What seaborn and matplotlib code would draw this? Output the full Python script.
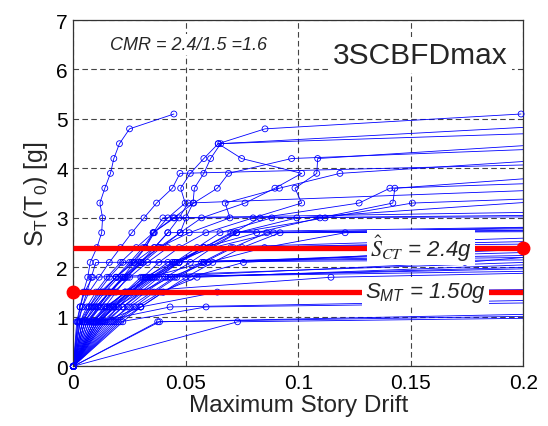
import matplotlib
matplotlib.use("Agg")
import matplotlib.pyplot as plt
import pandas as pd
import seaborn as sns

# ---------------- data ----------------
sa_levels = [0.9, 1.2, 1.5, 1.8, 2.1, 2.4, 2.7, 3.0, 3.3, 3.6, 3.9, 4.2, 4.5, 4.8, 5.1]

record_drifts = [
    [0.002, 0.003, 0.0045, 0.0064, 0.0075, 0.0105, 0.0126, 0.013, 0.0118, 0.014, 0.0165, 0.018, 0.0205, 0.025, 0.0447],
    [0.004, 0.008, 0.013, 0.019, 0.026, 0.032, 0.036, 0.042, 0.0497, 0.0477, 0.052, 0.058, 0.0644, 0.0852, 0.199],
    [0.009, 0.014, 0.019, 0.024, 0.030, 0.038, 0.0475, 0.057, 0.0763, 0.0896, 0.1015, 0.0748, 0.0644],
    [0.003, 0.006, 0.010, 0.015, 0.021, 0.028, 0.0355, 0.0445, 0.0535, 0.064, 0.069, 0.097],
    [0.012, 0.018, 0.024, 0.031, 0.038, 0.047, 0.0589, 0.0799, 0.1015, 0.0985, 0.1082, 0.1086],
    [0.006, 0.011, 0.016, 0.022, 0.029, 0.038, 0.0515, 0.0696, 0.0675, 0.0916, 0.1185],
    [0.015, 0.022, 0.030, 0.038, 0.047, 0.058, 0.0711, 0.083, 0.127, 0.1407],
    [0.008, 0.016, 0.025, 0.034, 0.045, 0.058, 0.0815, 0.1096, 0.142, 0.1429],
    [0.002, 0.004, 0.007, 0.0115, 0.016, 0.021, 0.026, 0.0314, 0.037, 0.044, 0.0474],
    [0.005, 0.010, 0.016, 0.023, 0.031, 0.039, 0.0475, 0.050, 0.0532, 0.0538, 0.058, 0.061, 0.0655],
    [0.010, 0.017, 0.025, 0.035, 0.047, 0.060, 0.0726, 0.1119, 0.1507],
    [0.003, 0.007, 0.012, 0.019, 0.027, 0.036, 0.042, 0.047, 0.051],
    [0.007, 0.012, 0.017, 0.022, 0.027, 0.032, 0.0355, 0.0398],
    [0.011, 0.018, 0.026, 0.035, 0.045, 0.055, 0.0652, 0.0882],
    [0.014, 0.022, 0.031, 0.041, 0.052, 0.062, 0.0726, 0.0993],
    [0.004, 0.008, 0.013, 0.019, 0.025, 0.031, 0.0355, 0.045],
    [0.005, 0.010, 0.016, 0.023, 0.030, 0.036, 0.042],
    [0.013, 0.020, 0.028, 0.037, 0.047, 0.058, 0.070],
    [0.018, 0.027, 0.036, 0.046, 0.058, 0.071, 0.086],
    [0.009, 0.015, 0.023, 0.032, 0.044, 0.062, 0.0889],
    [0.020, 0.030, 0.040, 0.050, 0.062, 0.075, 0.0919],
    [0.011, 0.019, 0.030, 0.043, 0.060, 0.085, 0.1208],
    [0.006, 0.012, 0.018, 0.025, 0.033, 0.042],
    [0.010, 0.018, 0.027, 0.036, 0.046, 0.058],
    [0.016, 0.025, 0.035, 0.045, 0.057, 0.070],
    [0.0025, 0.004, 0.006, 0.008, 0.010],
    [0.004, 0.007, 0.011, 0.016, 0.022],
    [0.007, 0.011, 0.016, 0.022, 0.030],
    [0.012, 0.018, 0.025, 0.033, 0.042],
    [0.009, 0.015, 0.023, 0.034, 0.058],
    [0.022, 0.030, 0.040, 0.052, 0.0756],
    [0.014, 0.020, 0.026, 0.032, 0.174],
    [0.0015, 0.003, 0.005, 0.0085],
    [0.005, 0.009, 0.014, 0.020],
    [0.010, 0.016, 0.023, 0.030],
    [0.017, 0.024, 0.032, 0.042],
    [0.019, 0.028, 0.039, 0.055],
    [0.008, 0.014, 0.024, 0.1145],
    [0.013, 0.030, 0.064],
    [0.021, 0.059],
    [0.011, 0.043],
    [0.073],
    [0.0375],
    [0.0383],
]

# Sa where each record's collapse segment crosses the right edge (None = no collapse)
collapse_sa = [
    None, None, 4.70, 4.38, 4.46, 4.14, 3.69, 3.79, 4.07, 4.83,
    3.38, 3.55, 3.11, 3.05, 3.31, 3.02,
    2.81, 2.78, 2.75, 2.72, 2.80, 2.74,
    2.47, 2.59, 2.52,
    2.15, 2.20, 2.24, 2.30, 2.36, 2.40, 2.20,
    2.10, 1.92, 1.97, 2.00, 2.05, 1.88,
    1.55, 1.28, 1.33, 0.97, 1.01, 1.05,
]

drift_limit = 0.2
s_mt = 1.50
s_ct = 2.4
x_ticks = [0, 0.05, 0.1, 0.15, 0.2]
x_ticklabels = ["0", "0.05", "0.1", "0.15", "0.2"]
y_ticks = [0, 1, 2, 3, 4, 5, 6, 7]

# ---------------- tidy tables ----------------
line_rows, pt_rows = [], []
for rid, (drifts, cend) in enumerate(zip(record_drifts, collapse_sa)):
    pts = [(0.0, 0.0)] + list(zip(drifts, sa_levels[:len(drifts)]))
    for k, (x, y) in enumerate(pts):
        line_rows.append({"rec": rid, "k": k, "drift": x, "sa": y})
        pt_rows.append({"rec": rid, "drift": x, "sa": y})
    if cend is not None:
        line_rows.append({"rec": rid, "k": len(pts), "drift": drift_limit, "sa": cend})
lines_df = pd.DataFrame(line_rows)
pts_df = pd.DataFrame(pt_rows)

# ---------------- figure ----------------
sns.set_theme(style="white")
plt.rcParams["font.family"] = ["Liberation Sans", "DejaVu Sans"]
plt.rcParams["mathtext.fontset"] = "custom"
plt.rcParams["mathtext.rm"] = "Liberation Sans"
plt.rcParams["mathtext.it"] = "Liberation Sans:italic"

fig = plt.figure(figsize=(5.48, 4.27), dpi=100)
ax = fig.add_axes([0.1338, 0.1398, 0.8212, 0.811])

sns.lineplot(data=lines_df, x="drift", y="sa", units="rec", estimator=None,
             sort=False, color="#0000ff", lw=0.6, ax=ax, legend=False)
sns.scatterplot(data=pts_df, x="drift", y="sa", color="#0000ff", s=18,
                marker="o", ax=ax, legend=False, clip_on=False, zorder=3)
sc = ax.collections[-1]
sc.set_facecolor("none")
sc.set_edgecolor("#0000ff")
sc.set_linewidth(0.6)

# red reference lines
ax.plot([0, drift_limit], [s_ct, s_ct], color="#ff0000", lw=3.8,
        solid_capstyle="butt", zorder=4)
ax.plot([drift_limit], [s_ct], "o", color="#ff0000", ms=9, clip_on=False, zorder=5)
ax.plot([0, drift_limit], [s_mt, s_mt], color="#ff0000", lw=3.8,
        solid_capstyle="butt", zorder=4)
ax.plot([0], [s_mt], "o", color="#ff0000", ms=9, clip_on=False, zorder=5)

box = dict(boxstyle="square,pad=0.12", fc="white", ec="none")
ax.text(0.1545, s_ct, r"$\hat{S}_{CT}$ = 2.4g", fontsize=16, style="italic",
        ha="center", va="center", bbox=box, zorder=6, math_fontfamily="stix")
ax.text(0.1565, s_mt, r"$S_{MT}$ = 1.50g", fontsize=16, style="italic",
        ha="center", va="center", bbox=box, zorder=6)

ax.text(0.0165, 6.5, "CMR = 2.4/1.5 =1.6", fontsize=13, style="italic",
        ha="left", va="center", bbox=dict(boxstyle="square,pad=0.1", fc="white", ec="none"),
        zorder=6)
ax.text(0.1155, 6.13, "3SCBFDmax", fontsize=21.5, ha="left", va="baseline",
        bbox=dict(boxstyle="square,pad=0.12", fc="white", ec="none"), zorder=6)

ax.set_xlim(0, drift_limit)
ax.set_ylim(0, 7)
ax.set_xticks(x_ticks)
ax.set_xticklabels(x_ticklabels)
ax.set_yticks(y_ticks)
ax.tick_params(axis="both", direction="in", length=4, width=0.8, labelsize=15,
               colors="black")
ax.tick_params(axis="x", pad=5)
ax.tick_params(axis="y", pad=4)
ax.grid(True, color="#444444", lw=0.8, linestyle=(0, (5, 3)))
ax.set_axisbelow(True)
for sp in ax.spines.values():
    sp.set_color("#333333")
    sp.set_linewidth(0.9)

ax.set_xlabel("Maximum Story Drift", fontsize=17.5, labelpad=1)
ax.set_ylabel(r"S$_\mathrm{T}$(T$_\mathrm{0}$) [g]", fontsize=18, labelpad=4)

fig.savefig("out.png", dpi=100, facecolor="white")
